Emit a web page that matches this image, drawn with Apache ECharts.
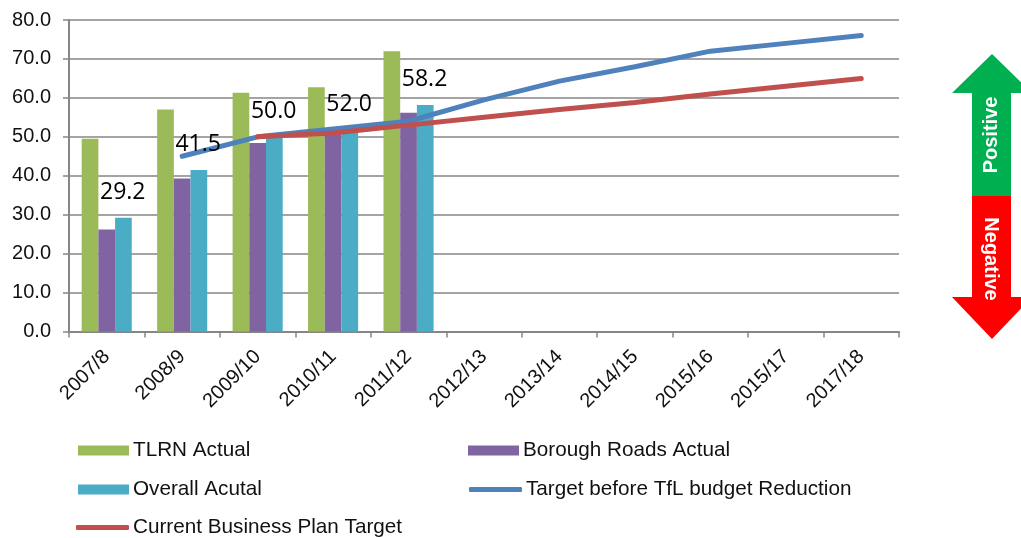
<!DOCTYPE html>
<html>
<head>
<meta charset="utf-8">
<title>Chart</title>
<script src="https://cdn.jsdelivr.net/npm/echarts@6/dist/echarts.min.js"></script>
<style>
html, body { margin: 0; padding: 0; background: #fff; }
#ech { width: 1021px; height: 538px; }
</style>
</head>
<body>
<div id="ech"></div>
<script>
var years = ['2007/8', '2008/9', '2009/10', '2010/11', '2011/12', '2012/13', '2013/14', '2014/15', '2015/16', '2015/17', '2017/18'];
var tlrnActual = [49.5, 57.0, 61.3, 62.7, 72.0];
var boroughActual = [26.2, 39.3, 48.4, 51.0, 56.2];
var overallActual = [29.2, 41.5, 50.0, 52.0, 58.2];
var targetBefore = [null, 45.0, 50.0, 52.0, 54.0, 59.5, 64.3, 68.0, 72.0, 74.0, 76.0];
var currentTarget = [null, null, 50.0, 51.0, 53.0, 55.0, 57.0, 58.8, 61.0, 63.0, 65.0];

var green = '#9BBB59', purple = '#8064A2', teal = '#4BACC6', blue = '#4F81BD', red = '#C0504D';
var axisGrey = '#868686';
var sansFont = '"Liberation Sans", Arial, sans-serif';

// one legend per entry, the original has them in a loose two column grid
function legendAt(name, left, top, isLine) {
	return {
		data : [name],
		left : left,
		top : top,
		padding : 0,
		itemGap : 0,
		itemWidth : isLine ? 53 : 51,
		itemHeight : isLine ? 5 : 10,
		icon : isLine ? 'roundRect' : 'rect',
		textStyle : { fontFamily : sansFont, fontSize : 20.7, color : '#111', padding : [3, 0, 0, -1] }
	};
}

function barSeries(name, data, color) {
	return {
		name : name,
		type : 'bar',
		data : data,
		barWidth : 16.7,
		barGap : 0,
		itemStyle : { color : color }
	};
}

function lineSeries(name, data, color) {
	return {
		name : name,
		type : 'line',
		data : data,
		symbol : 'none',
		z : 5,
		lineStyle : { color : color, width : 5, cap : 'round' },
		itemStyle : { color : color }
	};
}

// labels sit above the target lines, so they go on an invisible line of their own
var overallLabels = {
	name : 'Overall labels',
	type : 'line',
	data : overallActual,
	symbol : 'circle',
	symbolSize : 1,
	z : 10,
	silent : true,
	lineStyle : { opacity : 0 },
	itemStyle : { color : 'transparent' },
	label : {
		show : true,
		position : 'top',
		distance : 5,
		offset : [16, -8],
		formatter : function(p) { return p.value.toFixed(1); },
		fontFamily : '"Open Sans", sans-serif',
		fontSize : 23,
		color : '#000'
	}
};

var myChart = echarts.init(document.getElementById('ech'));
var option = {
	animation : false,
	backgroundColor : '#fff',
	grid : { left : 69, top : 20, width : 830, height : 311.5 },
	legend : [
		legendAt('TLRN Actual', 78, 440, false),
		legendAt('Borough Roads Actual', 468, 440, false),
		legendAt('Overall Acutal', 78, 479, false),
		legendAt('Target before TfL budget Reduction', 469, 479, true),
		legendAt('Current Business Plan Target', 76, 517, true)
	],
	xAxis : {
		type : 'category',
		data : years,
		axisLine : { lineStyle : { color : axisGrey, width : 2 } },
		axisTick : { show : true, alignWithLabel : false, length : 6, lineStyle : { color : axisGrey, width : 1.5 } },
		axisLabel : { interval : 0, rotate : 45, margin : 22, fontFamily : sansFont, fontSize : 20, color : '#111' }
	},
	yAxis : {
		type : 'value',
		min : 0,
		max : 80,
		interval : 10,
		axisLine : { show : true, lineStyle : { color : axisGrey, width : 2 } },
		axisTick : { show : true, length : 6, lineStyle : { color : axisGrey, width : 1.5 } },
		axisLabel : {
			margin : 18,
			padding : [3, 0, 0, 0],
			fontFamily : sansFont,
			fontSize : 20,
			color : '#111',
			formatter : function(v) { return v.toFixed(1); }
		},
		splitLine : { lineStyle : { color : axisGrey, width : 1.5 } }
	},
	series : [
		barSeries('TLRN Actual', tlrnActual, green),
		barSeries('Borough Roads Actual', boroughActual, purple),
		barSeries('Overall Acutal', overallActual, teal),
		lineSeries('Target before TfL budget Reduction', targetBefore, blue),
		lineSeries('Current Business Plan Target', currentTarget, red),
		overallLabels
	],
	// the Positive / Negative arrow at the right edge
	graphic : [
		{
			type : 'polygon',
			shape : { points : [[992, 54], [1032, 93], [1011, 93], [1011, 196], [972, 196], [972, 93], [952, 93]] },
			style : { fill : '#00B050' }
		},
		{
			type : 'polygon',
			shape : { points : [[972, 196], [1011, 196], [1011, 297], [1032, 297], [992, 339], [952, 297], [972, 297]] },
			style : { fill : '#FF0000' }
		},
		{
			type : 'text',
			x : 991,
			y : 135,
			rotation : Math.PI / 2,
			style : { text : 'Positive', fill : '#fff', font : 'bold 20px ' + sansFont, textAlign : 'center', textVerticalAlign : 'middle' }
		},
		{
			type : 'text',
			x : 991,
			y : 259,
			rotation : -Math.PI / 2,
			style : { text : 'Negative', fill : '#fff', font : 'bold 20px ' + sansFont, textAlign : 'center', textVerticalAlign : 'middle' }
		}
	]
};
myChart.setOption(option);
</script>
</body>
</html>
